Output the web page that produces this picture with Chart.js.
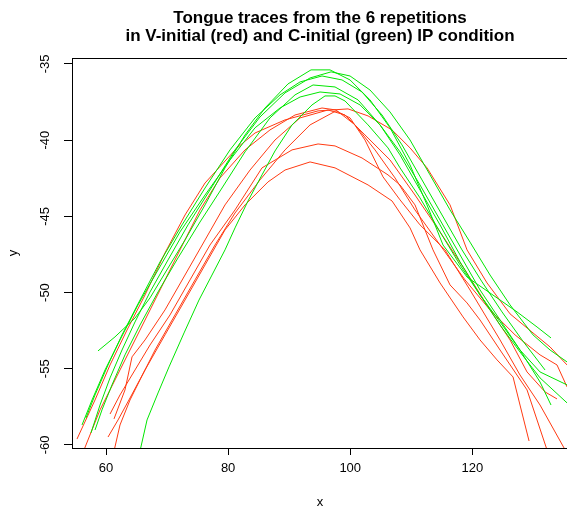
<!DOCTYPE html>
<html>
<head>
<meta charset="utf-8">
<script src="https://cdn.jsdelivr.net/npm/chart.js@4/dist/chart.umd.min.js"></script>
<style>
  html, body { margin: 0; padding: 0; background: #fff; overflow: hidden; }
  #wrap { width: 567px; height: 510px; overflow: hidden; }
</style>
</head>
<body>
<div id="wrap"><canvas id="myChart" width="580" height="510"></canvas></div>
<script>
// axis ticks
const xTicks = [60, 80, 100, 120];
const yTicks = [-60, -55, -50, -45, -40, -35];

// V-initial traces (red)
const red1x = [55.25, 58.20, 60.66, 63.44, 66.39, 69.66, 72.94, 76.22, 81.46, 84.41, 89.32, 94.73, 99.64, 102.92, 106.85, 109.80, 112.58, 116.35, 119.13, 122.41, 126.18, 129.94, 132.73, 135.51];
const red1y = [-59.61, -57.05, -54.75, -52.46, -50.16, -47.40, -44.91, -42.81, -40.51, -39.53, -38.67, -38.08, -37.95, -38.41, -39.33, -40.51, -41.82, -44.25, -47.20, -49.37, -51.40, -52.65, -53.57, -54.75];
const red2x = [55.74, 59.02, 62.29, 65.57, 68.85, 72.12, 75.40, 78.67, 82.77, 86.86, 90.96, 95.38, 97.67, 100.79, 104.06, 107.34, 110.61, 114.71, 118.80, 122.90, 127.00, 131.09, 133.87, 135.51];
const red2y = [-60.98, -57.70, -55.08, -52.46, -49.83, -47.20, -44.58, -42.48, -40.64, -39.33, -38.35, -37.89, -38.02, -39.00, -40.64, -42.48, -44.58, -46.88, -49.17, -51.14, -52.78, -54.09, -54.75, -56.19];
const red3x = [60.33, 61.97, 63.93, 66.39, 69.66, 72.94, 76.22, 79.49, 82.77, 86.54, 89.32, 93.42, 97.51, 102.92, 106.85, 109.80, 111.43, 114.71, 118.48, 121.26, 124.05, 126.67, 127.81, 129.29];
const red3y = [-59.48, -58.36, -56.92, -55.08, -52.78, -50.49, -48.19, -45.89, -44.25, -42.74, -41.96, -41.43, -41.82, -42.94, -43.99, -45.76, -47.20, -49.37, -51.60, -53.11, -54.42, -55.54, -57.38, -59.74];
const red4x = [60.66, 62.29, 64.75, 67.21, 70.48, 73.76, 77.03, 81.13, 85.55, 90.47, 94.73, 97.51, 101.93, 106.19, 108.16, 110.61, 113.56, 116.35, 119.13, 121.26, 124.54, 128.96, 132.56];
const red4y = [-57.97, -56.72, -55.08, -53.44, -51.47, -49.17, -46.88, -44.58, -41.82, -40.64, -40.25, -40.38, -41.17, -42.28, -42.94, -44.25, -47.20, -49.50, -50.68, -51.80, -53.77, -56.39, -60.72];
const red5x = [60.98, 62.29, 63.93, 65.57, 68.03, 71.30, 74.58, 77.85, 81.13, 85.22, 89.32, 93.42, 97.67, 99.97, 102.42, 105.37, 108.16, 111.43, 115.53, 119.62, 124.54, 127.81, 131.09, 135.67];
const red5y = [-60.98, -58.69, -57.05, -55.73, -53.77, -51.47, -49.17, -46.88, -44.78, -42.61, -40.64, -39.00, -38.08, -38.54, -39.99, -42.41, -43.92, -45.56, -47.20, -49.83, -53.11, -55.41, -57.38, -60.66];
const red6x = [61.31, 63.11, 64.26, 66.39, 69.66, 72.94, 76.22, 79.49, 83.59, 87.68, 91.78, 96.36, 99.15, 102.42, 106.52, 110.61, 114.71, 118.80, 122.90, 126.18, 128.96, 131.91, 133.87];
const red6y = [-58.29, -56.39, -54.22, -53.11, -51.14, -48.85, -46.55, -44.25, -41.96, -39.99, -38.54, -38.02, -38.35, -39.66, -41.30, -43.60, -46.02, -48.52, -51.14, -53.11, -55.21, -56.52, -56.98];

// C-initial traces (green)
const green1x = [65.24, 66.72, 68.52, 70.32, 72.78, 75.23, 77.36, 79.49, 81.13, 83.26, 85.55, 87.68, 90.47, 93.74, 95.87, 97.51, 99.15, 102.92, 106.19, 108.16, 111.43, 114.71, 117.99, 121.26, 124.54, 127.81, 131.09, 135.51];
const green1y = [-60.98, -58.36, -56.59, -54.88, -52.65, -50.49, -48.85, -47.20, -45.76, -43.99, -42.28, -40.71, -39.00, -37.69, -37.10, -37.10, -37.43, -39.00, -40.51, -41.82, -43.79, -46.02, -48.19, -50.16, -52.13, -53.90, -55.60, -57.24];
const green2x = [58.69, 61.47, 64.75, 67.21, 70.16, 72.94, 76.22, 79.49, 82.77, 86.04, 89.81, 93.58, 96.69, 99.97, 103.24, 106.52, 109.80, 112.58, 115.20, 119.13, 122.90, 127.32, 130.60, 132.89];
const green2y = [-53.83, -52.91, -51.67, -50.35, -48.39, -46.55, -44.25, -41.82, -39.66, -37.89, -36.31, -35.39, -35.39, -36.05, -37.36, -39.19, -41.63, -44.25, -46.88, -48.98, -50.03, -51.27, -52.26, -52.98];
const green3x = [57.54, 59.02, 60.66, 62.62, 64.75, 67.21, 70.16, 73.43, 77.03, 81.13, 85.22, 89.32, 93.42, 96.86, 99.97, 103.24, 106.52, 109.80, 113.07, 116.35, 119.62, 122.90, 126.18, 129.94, 132.73, 135.51];
const green3y = [-59.21, -57.38, -55.60, -53.77, -51.93, -49.96, -47.86, -45.56, -43.27, -40.64, -38.48, -36.90, -35.92, -35.52, -35.79, -36.71, -38.15, -39.99, -42.28, -44.58, -46.69, -48.85, -50.81, -52.78, -53.77, -54.55];
const green4x = [58.20, 59.34, 60.98, 63.11, 65.57, 68.52, 71.79, 75.40, 79.00, 82.77, 86.86, 90.96, 93.91, 97.51, 101.28, 104.88, 108.16, 111.43, 114.71, 117.99, 121.26, 124.54, 127.81, 131.09, 135.51];
const green4y = [-59.02, -57.70, -56.06, -54.09, -52.13, -49.96, -47.73, -45.37, -43.14, -40.77, -38.54, -37.03, -36.38, -36.51, -37.36, -39.00, -40.97, -43.27, -45.56, -47.99, -50.16, -51.93, -53.77, -55.21, -56.06];
const green5x = [56.07, 57.71, 59.84, 62.29, 65.24, 68.52, 72.12, 76.22, 80.31, 84.41, 88.50, 91.78, 95.05, 98.33, 101.61, 104.88, 108.16, 111.43, 114.71, 117.99, 121.26, 124.54, 127.81, 131.09, 132.89];
const green5y = [-58.69, -57.05, -55.08, -53.11, -50.81, -48.52, -46.02, -43.60, -41.30, -39.19, -37.89, -37.17, -36.84, -36.97, -37.69, -39.00, -40.77, -42.94, -45.24, -47.53, -49.83, -51.80, -53.77, -55.87, -57.38];
const green6x = [56.72, 58.20, 60.33, 62.62, 65.57, 68.85, 72.45, 76.22, 80.31, 84.41, 88.50, 91.78, 95.38, 98.66, 101.93, 105.21, 108.48, 111.76, 115.04, 118.31, 121.59, 124.86, 128.14, 131.91];
const green6y = [-58.23, -56.72, -54.75, -52.78, -50.49, -47.99, -45.56, -43.14, -40.64, -38.54, -37.03, -36.18, -35.79, -36.05, -36.84, -38.35, -40.31, -42.61, -44.91, -47.20, -49.30, -51.27, -53.11, -55.08];

const RED = '#ff3a12';
const GREEN = '#00e600';
const FONT = "'Liberation Sans', Arial, Helvetica, sans-serif";

const toPoints = (xs, ys) => xs.map((x, i) => ({ x: x, y: ys[i] }));
const trace = (xs, ys, color) => ({
    data: toPoints(xs, ys),
    borderColor: color,
    borderWidth: 1,
    pointRadius: 0,
    fill: false,
    tension: 0
});

// green listed first so it is painted on top
const datasets = [
    trace(green1x, green1y, GREEN), trace(green2x, green2y, GREEN), trace(green3x, green3y, GREEN),
    trace(green4x, green4y, GREEN), trace(green5x, green5y, GREEN), trace(green6x, green6y, GREEN),
    trace(red1x, red1y, RED), trace(red2x, red2y, RED), trace(red3x, red3y, RED),
    trace(red4x, red4y, RED), trace(red5x, red5y, RED), trace(red6x, red6y, RED)
];

const boxPlugin = {
    id: 'plotBox',
    afterDraw(chart) {
        const { ctx, chartArea: a } = chart;
        ctx.save();
        ctx.strokeStyle = '#000';
        ctx.lineWidth = 1;
        ctx.strokeRect(Math.round(a.left) + 0.5, Math.round(a.top) + 0.5, a.right - a.left, a.bottom - a.top);
        ctx.restore();
    }
};

const ctx = document.getElementById('myChart').getContext('2d');
new Chart(ctx, {
    type: 'line',
    data: { datasets: datasets },
    options: {
        responsive: false,
        animation: false,
        layout: { padding: { left: 0, right: 12, top: 0, bottom: 0 } },
        plugins: {
            legend: { display: false },
            tooltip: { enabled: false },
            title: {
                display: true,
                fullSize: false,
                text: ['Tongue traces from the 6 repetitions', 'in V-initial (red) and C-initial (green) IP condition'],
                color: '#000',
                font: { family: FONT, size: 17, weight: 'bold', lineHeight: 1.1 },
                padding: { top: 8.5, bottom: 12.1 }
            }
        },
        scales: {
            x: {
                type: 'linear',
                min: 54.43,
                max: 135.67,
                afterBuildTicks: (axis) => { axis.ticks = xTicks.map(v => ({ value: v })); },
                afterFit: (axis) => { axis.height = 62; },
                grid: { drawOnChartArea: false, drawTicks: true, tickLength: 7, color: '#000' },
                border: { display: false },
                ticks: { color: '#000', font: { family: FONT, size: 13 }, padding: 6, autoSkip: false, maxRotation: 0 },
                title: { display: true, text: 'x', color: '#000', font: { family: FONT, size: 13 }, padding: { top: 0, bottom: 0 } }
            },
            y: {
                type: 'linear',
                min: -60.2,
                max: -34.61,
                afterBuildTicks: (axis) => { axis.ticks = yTicks.map(v => ({ value: v })); },
                afterFit: (axis) => { axis.width = 72; },
                grid: { drawOnChartArea: false, drawTicks: true, tickLength: 8, color: '#000' },
                border: { display: false },
                ticks: { color: '#000', font: { family: FONT, size: 13 }, padding: 9, autoSkip: false, minRotation: 90, maxRotation: 90, crossAlign: 'center' },
                title: { display: true, text: 'y', color: '#000', font: { family: FONT, size: 13 }, padding: { top: 6, bottom: 0 } }
            }
        }
    },
    plugins: [boxPlugin]
});
</script>
</body>
</html>
